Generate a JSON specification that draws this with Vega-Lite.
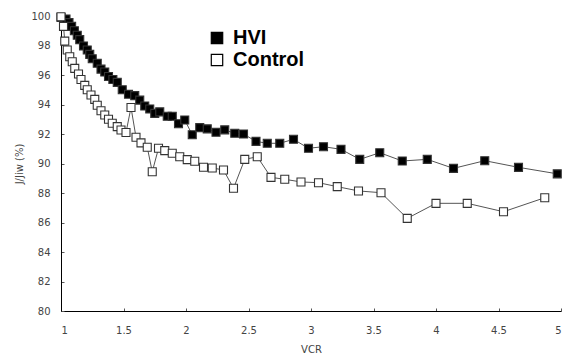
{
  "$schema": "https://vega.github.io/schema/vega-lite/v6.json",
  "width": 500,
  "height": 295,
  "autosize": {"type": "none"},
  "padding": {"left": 61, "top": 16, "right": 11, "bottom": 51},
  "background": "white",
  "config": {
    "view": {"stroke": null},
    "axis": {"grid": false, "domainColor": "black", "domainWidth": 1, "tickColor": "#555", "labelColor": "#444", "titleColor": "#444", "labelFont": "DejaVu Sans", "titleFont": "DejaVu Sans", "labelFontSize": 10, "titleFontSize": 10, "titleFontWeight": "normal"}
  },
  "data": {"values": [
    {"series":"HVI","vcr":1.0,"v":99.9},{"series":"HVI","vcr":1.04,"v":99.8},{"series":"HVI","vcr":1.064,"v":99.55},{"series":"HVI","vcr":1.085,"v":99.3},{"series":"HVI","vcr":1.107,"v":99.0},{"series":"HVI","vcr":1.13,"v":98.7},{"series":"HVI","vcr":1.15,"v":98.4},{"series":"HVI","vcr":1.18,"v":97.97},{"series":"HVI","vcr":1.21,"v":97.7},{"series":"HVI","vcr":1.23,"v":97.4},{"series":"HVI","vcr":1.25,"v":97.1},{"series":"HVI","vcr":1.29,"v":96.8},{"series":"HVI","vcr":1.32,"v":96.4},{"series":"HVI","vcr":1.35,"v":96.2},{"series":"HVI","vcr":1.38,"v":95.9},{"series":"HVI","vcr":1.415,"v":95.7},{"series":"HVI","vcr":1.45,"v":95.5},{"series":"HVI","vcr":1.49,"v":95.0},{"series":"HVI","vcr":1.54,"v":94.7},{"series":"HVI","vcr":1.59,"v":94.6},{"series":"HVI","vcr":1.63,"v":94.3},{"series":"HVI","vcr":1.67,"v":93.9},{"series":"HVI","vcr":1.71,"v":93.7},{"series":"HVI","vcr":1.75,"v":93.4},{"series":"HVI","vcr":1.79,"v":93.5},{"series":"HVI","vcr":1.85,"v":93.2},{"series":"HVI","vcr":1.89,"v":93.2},{"series":"HVI","vcr":1.94,"v":92.7},{"series":"HVI","vcr":1.99,"v":92.95},{"series":"HVI","vcr":2.05,"v":91.95},{"series":"HVI","vcr":2.11,"v":92.43},{"series":"HVI","vcr":2.17,"v":92.35},{"series":"HVI","vcr":2.24,"v":92.12},{"series":"HVI","vcr":2.31,"v":92.28},{"series":"HVI","vcr":2.39,"v":92.05},{"series":"HVI","vcr":2.46,"v":92.0},{"series":"HVI","vcr":2.56,"v":91.5},{"series":"HVI","vcr":2.65,"v":91.37},{"series":"HVI","vcr":2.75,"v":91.37},{"series":"HVI","vcr":2.86,"v":91.64},{"series":"HVI","vcr":2.98,"v":91.03},{"series":"HVI","vcr":3.10,"v":91.14},{"series":"HVI","vcr":3.24,"v":90.96},{"series":"HVI","vcr":3.39,"v":90.28},{"series":"HVI","vcr":3.55,"v":90.73},{"series":"HVI","vcr":3.73,"v":90.17},{"series":"HVI","vcr":3.93,"v":90.28},{"series":"HVI","vcr":4.14,"v":89.67},{"series":"HVI","vcr":4.39,"v":90.19},{"series":"HVI","vcr":4.66,"v":89.74},{"series":"HVI","vcr":4.97,"v":89.3},
    {"series":"Control","vcr":1.0,"v":99.95},{"series":"Control","vcr":1.02,"v":99.3},{"series":"Control","vcr":1.03,"v":98.3},{"series":"Control","vcr":1.05,"v":97.7},{"series":"Control","vcr":1.07,"v":97.24},{"series":"Control","vcr":1.09,"v":96.9},{"series":"Control","vcr":1.11,"v":96.45},{"series":"Control","vcr":1.14,"v":96.07},{"series":"Control","vcr":1.16,"v":95.7},{"series":"Control","vcr":1.19,"v":95.3},{"series":"Control","vcr":1.21,"v":95.0},{"series":"Control","vcr":1.24,"v":94.64},{"series":"Control","vcr":1.27,"v":94.35},{"series":"Control","vcr":1.29,"v":93.95},{"series":"Control","vcr":1.32,"v":93.58},{"series":"Control","vcr":1.35,"v":93.29},{"series":"Control","vcr":1.38,"v":93.0},{"series":"Control","vcr":1.41,"v":92.73},{"series":"Control","vcr":1.45,"v":92.5},{"series":"Control","vcr":1.48,"v":92.27},{"series":"Control","vcr":1.52,"v":92.1},{"series":"Control","vcr":1.56,"v":93.8},{"series":"Control","vcr":1.60,"v":91.78},{"series":"Control","vcr":1.64,"v":91.4},{"series":"Control","vcr":1.69,"v":91.1},{"series":"Control","vcr":1.73,"v":89.44},{"series":"Control","vcr":1.78,"v":91.03},{"series":"Control","vcr":1.83,"v":90.87},{"series":"Control","vcr":1.89,"v":90.69},{"series":"Control","vcr":1.95,"v":90.46},{"series":"Control","vcr":2.01,"v":90.26},{"series":"Control","vcr":2.07,"v":90.15},{"series":"Control","vcr":2.14,"v":89.75},{"series":"Control","vcr":2.21,"v":89.7},{"series":"Control","vcr":2.30,"v":89.56},{"series":"Control","vcr":2.38,"v":88.32},{"series":"Control","vcr":2.47,"v":90.28},{"series":"Control","vcr":2.57,"v":90.46},{"series":"Control","vcr":2.68,"v":89.06},{"series":"Control","vcr":2.79,"v":88.93},{"series":"Control","vcr":2.92,"v":88.75},{"series":"Control","vcr":3.06,"v":88.7},{"series":"Control","vcr":3.21,"v":88.43},{"series":"Control","vcr":3.38,"v":88.14},{"series":"Control","vcr":3.56,"v":88.02},{"series":"Control","vcr":3.77,"v":86.28},{"series":"Control","vcr":4.0,"v":87.3},{"series":"Control","vcr":4.25,"v":87.3},{"series":"Control","vcr":4.54,"v":86.73},{"series":"Control","vcr":4.87,"v":87.68}
  ]},
  "encoding": {
    "x": {"field": "vcr", "type": "quantitative", "scale": {"domain": [1, 5], "nice": false, "zero": false}, "axis": {"title": "VCR", "values": [1,1.5,2,2.5,3,3.5,4,4.5,5], "format": "~g", "tickSize": -3, "labelPadding": 17, "titlePadding": 9}},
    "y": {"field": "v", "type": "quantitative", "scale": {"domain": [80, 100], "nice": false, "zero": false}, "axis": {"title": "J/Jiw (%)", "values": [80,82,84,86,88,90,92,94,96,98,100], "tickSize": -3, "labelPadding": 14, "titlePadding": 6}}
  },
  "layer": [
    {"mark": {"type": "line", "color": "#555", "strokeWidth": 1}, "encoding": {"detail": {"field": "series"}}},
    {"mark": {"type": "point", "shape": "square", "filled": true, "size": 64, "stroke": "#333", "strokeWidth": 1.1, "opacity": 1},
     "encoding": {"fill": {"field": "series", "type": "nominal", "scale": {"domain": ["HVI", "Control"], "range": ["black", "white"]},
       "legend": {"title": null, "orient": "none", "legendX": 146, "legendY": 12, "symbolType": "square", "symbolSize": 130, "symbolStrokeColor": "black", "symbolStrokeWidth": 1.2, "labelFont": "Liberation Sans", "labelFontSize": 20, "labelFontWeight": "bold", "labelColor": "black", "rowPadding": 2, "labelOffset": 6}}}}
  ]
}
